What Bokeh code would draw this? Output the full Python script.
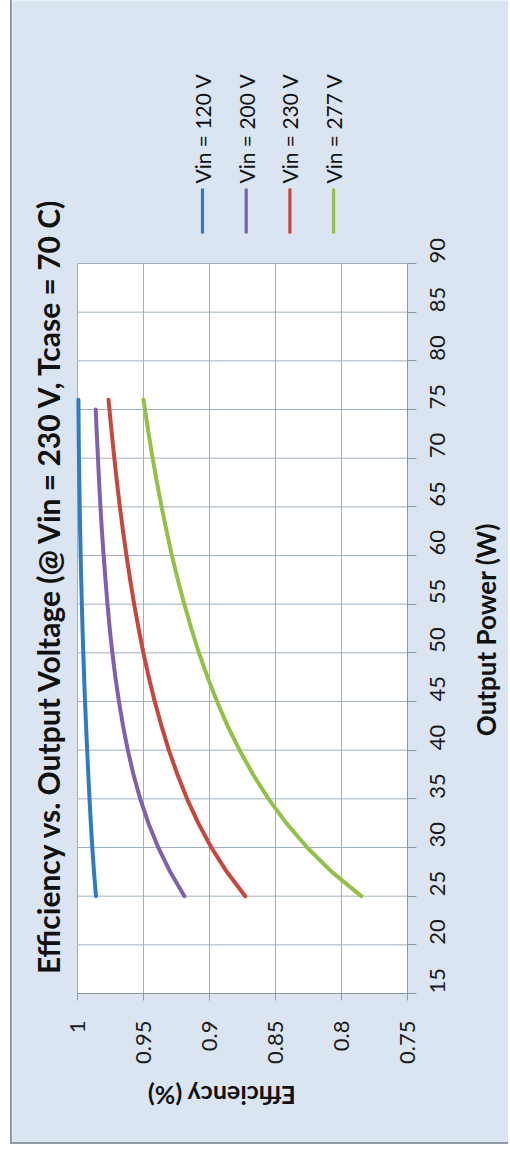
from math import pi
from bokeh.plotting import figure
from bokeh.models import Range1d, FixedTicker, NumeralTickFormatter, Label, BoxAnnotation
from bokeh.embed import file_html
from bokeh.resources import INLINE

# ---- data ----
series_names = ["Vin = 120 V", "Vin = 200 V", "Vin = 230 V", "Vin = 277 V"]
series_colors = ["#2f7bc4", "#7f5fb0", "#c9463d", "#93c047"]

power_120 = [25, 27.5, 30, 32.5, 35, 37.5, 40, 42.5, 45, 47.5, 50, 52.5, 55, 57.5, 60, 62.5, 65, 67.5, 70, 72.5, 76]
eff_120 = [0.986, 0.9875, 0.9888, 0.9899, 0.9909, 0.9918, 0.9927, 0.9935, 0.9943, 0.9950, 0.9956,
           0.9962, 0.9967, 0.9972, 0.9976, 0.9980, 0.9983, 0.9986, 0.9989, 0.9991, 0.9993]

power_200 = [25, 27.5, 30, 32.5, 35, 37.5, 40, 42.5, 45, 47.5, 50, 52.5, 55, 57.5, 60, 62.5, 65, 67.5, 70, 72.5, 75]
eff_200 = [0.919, 0.9298, 0.9388, 0.9463, 0.9525, 0.9576, 0.9619, 0.9655, 0.9686, 0.9713, 0.9736,
           0.9756, 0.9773, 0.9788, 0.9802, 0.9815, 0.9826, 0.9836, 0.9845, 0.9854, 0.9862]

power_230 = [25, 27.5, 30, 32.5, 35, 37.5, 40, 42.5, 45, 47.5, 50, 52.5, 55, 57.5, 60, 62.5, 65, 67.5, 70, 72.5, 76]
eff_230 = [0.8729, 0.8869, 0.8986, 0.9085, 0.9170, 0.9243, 0.9308, 0.9364, 0.9415, 0.9460, 0.9501,
           0.9537, 0.9571, 0.9601, 0.9629, 0.9655, 0.9679, 0.9701, 0.9721, 0.9740, 0.9765]

power_277 = [25, 27.5, 30, 32.5, 35, 37.5, 40, 42.5, 45, 47.5, 50, 52.5, 55, 57.5, 60, 62.5, 65, 67.5, 70, 72.5, 76]
eff_277 = [0.7850, 0.8074, 0.8260, 0.8418, 0.8553, 0.8670, 0.8772, 0.8863, 0.8943, 0.9015, 0.9080,
           0.9138, 0.9191, 0.9240, 0.9285, 0.9325, 0.9363, 0.9398, 0.9431, 0.9461, 0.9500]

power_ticks = [15, 20, 25, 30, 35, 40, 45, 50, 55, 60, 65, 70, 75, 80, 85, 90]
eff_ticks = [1.0, 0.95, 0.9, 0.85, 0.8, 0.75]
eff_labels = ["1", "0.95", "0.9", "0.85", "0.8", "0.75"]

title_text = "Efficiency vs. Output Voltage (@ Vin = 230 V, Tcase = 70 C)"
power_label = "Output  Power (W)"
eff_label = "Efficiency (%)"

FONT = "Lato"
BG = "#dbe5f1"
GRID = "#9eb0bf"
AXIS = "#8a98a4"

# ---- layout (pixels) ----
W, H = 498, 1144                 # canvas
PLOT_L, PLOT_R = 65, 395         # plot area, from canvas left
PLOT_T, PLOT_B = 263, 993        # plot area, from canvas top
px_eff = (PLOT_R - PLOT_L) / (eff_ticks[0] - eff_ticks[-1])
px_w = (PLOT_B - PLOT_T) / (power_ticks[-1] - power_ticks[0])

p = figure(width=W, height=H,
           x_range=Range1d(eff_ticks[0] + PLOT_L / px_eff, eff_ticks[-1] - (W - PLOT_R) / px_eff),
           y_range=Range1d(power_ticks[0] - (H - PLOT_B) / px_w, power_ticks[-1] + PLOT_T / px_w),
           x_axis_location="below", y_axis_location="right",
           toolbar_location=None, output_backend="svg",
           min_border=0,
           background_fill_color=BG, border_fill_color=BG,
           outline_line_color=None,
           styles={"margin-left": "10px",
                   "border-left": "2px solid #8f9ca6",
                   "border-bottom": "2px solid #8f9ca6"})
p.title.visible = False

# white plot area
p.add_layout(BoxAnnotation(left=eff_ticks[0], right=eff_ticks[-1],
                           bottom=power_ticks[0], top=power_ticks[-1],
                           fill_color="white", fill_alpha=1, line_color=None,
                           level="underlay"))

# grid lines limited to the plot area
p.xgrid.visible = False
p.ygrid.visible = False
p.segment(x0=eff_ticks, y0=[power_ticks[0]] * len(eff_ticks),
          x1=eff_ticks, y1=[power_ticks[-1]] * len(eff_ticks),
          line_color=GRID, line_width=1)
p.segment(x0=[eff_ticks[0]] * len(power_ticks), y0=power_ticks,
          x1=[eff_ticks[-1]] * len(power_ticks), y1=power_ticks,
          line_color=GRID, line_width=1)

for pw, ef, c in [(power_120, eff_120, series_colors[0]),
                  (power_200, eff_200, series_colors[1]),
                  (power_230, eff_230, series_colors[2]),
                  (power_277, eff_277, series_colors[3])]:
    p.line(ef, pw, line_color=c, line_width=4, line_cap="round", line_join="round")

# axes, pinned to the plot-area edges
xa = p.xaxis[0]
xa.ticker = FixedTicker(ticks=eff_ticks)
xa.formatter = NumeralTickFormatter(format="0.[00]")
xa.major_label_overrides = dict(zip(eff_ticks, eff_labels))
xa.bounds = (eff_ticks[-1], eff_ticks[0])
xa.fixed_location = power_ticks[0]

ya = p.yaxis[0]
ya.ticker = FixedTicker(ticks=power_ticks)
ya.bounds = (power_ticks[0], power_ticks[-1])
ya.fixed_location = eff_ticks[-1]

for ax, tout, st in [(xa, 7, 20), (ya, 9, 21)]:
    ax.major_label_orientation = pi / 2
    ax.major_tick_out = tout
    ax.major_tick_in = 0
    ax.minor_tick_out = 0
    ax.minor_tick_in = 0
    ax.axis_line_color = AXIS
    ax.major_tick_line_color = AXIS
    ax.major_label_standoff = st
    ax.major_label_text_font = FONT
    ax.major_label_text_font_size = "22px"
    ax.major_label_text_color = "#1a1a1a"

# texts (screen units: from canvas left / canvas bottom)
def add_text(sx, sy, text, angle, size, bold=True, align="center"):
    p.add_layout(Label(x=sx, y=H - sy, x_units="screen", y_units="screen", text=text,
                       angle=angle, text_align=align, text_baseline="middle",
                       text_font=FONT, text_font_style="bold" if bold else "normal",
                       text_font_size=size, text_color="#111111"))

add_text(35, 584, title_text, pi / 2, "30px")
add_text(473, 626, power_label, pi / 2, "26px")
add_text(209, 1095, eff_label, pi, "25px")

# legend (rotated, above the plot area)
leg_x0, leg_dx = 190, 43.7
for i, (name, c) in enumerate(zip(series_names, series_colors)):
    lx = leg_x0 + i * leg_dx
    p.add_layout(BoxAnnotation(left=lx - 1.6, right=lx + 1.6, bottom=H - 233, top=H - 188,
                               left_units="screen", right_units="screen",
                               bottom_units="screen", top_units="screen",
                               fill_color=c, fill_alpha=1, line_color=None))
    add_text(lx, 183, name, pi / 2, "21px", bold=False, align="left")

open("out.html", "w").write(file_html(p, INLINE))
